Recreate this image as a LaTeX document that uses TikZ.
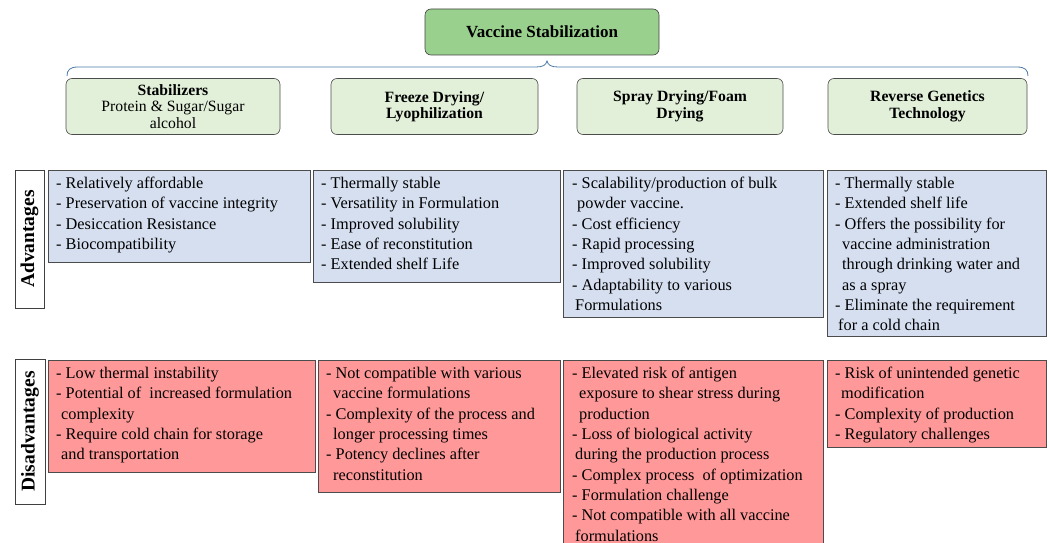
\documentclass[tikz,border=0pt]{standalone}
\usepackage{fontspec}
\setmainfont{Liberation Serif}[BoldFont={Liberation Serif Bold},ItalicFont={Liberation Serif Italic}]
\begin{document}
\begin{tikzpicture}[x=1pt,y=-1pt,
  topbox/.style={draw=black!75, line width=0.6pt, fill=topgreen, rounded corners=6pt, inner sep=0pt},
  catbox/.style={draw=black!70, line width=0.6pt, fill=catgreen, rounded corners=6pt, inner sep=0pt},
  advbox/.style={draw=black!70, line width=0.6pt, fill=advblue, inner sep=0pt},
  disbox/.style={draw=black!70, line width=0.6pt, fill=disred, inner sep=0pt},
  labbox/.style={draw=black!75, line width=0.7pt, fill=white, inner sep=0pt, rotate=90,
    font=\fontsize{19.5}{22}\selectfont\bfseries},
  bodytext/.style={anchor=north west, align=left, inner sep=0pt,
    font=\fontsize{16.3}{20.3}\selectfont},
  cattext/.style={align=center, inner sep=0pt, font=\fontsize{15.7}{16.5}\selectfont},
]
\definecolor{topgreen}{HTML}{9AD08E}
\definecolor{catgreen}{HTML}{E2F0D9}
\definecolor{advblue}{HTML}{D5DFF0}
\definecolor{disred}{HTML}{FF9898}
\definecolor{bracecol}{HTML}{4A7AA8}
\useasboundingbox (0,0) rectangle (1049,543);
\clip (0,0) rectangle (1049,543);

% top
\node[topbox, minimum width=234pt, minimum height=46pt] (top) at (542,32)
  {\fontsize{17}{18}\selectfont\bfseries Vaccine Stabilization};

% brace
\coordinate (brL) at (67,76);
\coordinate (brR) at (1028,76);
\coordinate (brT) at (547,61);
\draw[bracecol, line width=0.8pt]
  (brL) .. controls (67,70) and (70,67) .. (78,67) -- (536,67)
  .. controls (543,67) and (546,65) .. (brT)
  .. controls (548,65) and (551,67) .. (558,67) -- (1017,67)
  .. controls (1025,67) and (1028,70) .. (brR);

% category boxes
\node[catbox, minimum width=214pt, minimum height=56pt] (c1) at (173,106.5) {};
\node[catbox, minimum width=207pt, minimum height=56pt] (c2) at (434.5,106.5) {};
\node[catbox, minimum width=206pt, minimum height=56pt] (c3) at (680,106.5) {};
\node[catbox, minimum width=199pt, minimum height=56pt] (c4) at (927.5,106.5) {};
\node[cattext] (c1t) at (c1.center) {\textbf{Stabilizers}\\Protein \& Sugar/Sugar\\alcohol};
\node[cattext] (c2t) at (c2.center) {\textbf{Freeze Drying/}\\\textbf{Lyophilization}};
\node[cattext] (c3t) at (c3.center) {\textbf{Spray Drying/Foam}\\\textbf{Drying}};
\node[cattext] (c4t) at (c4.center) {\textbf{Reverse Genetics}\\\textbf{Technology}};

% side labels
\node[labbox, minimum width=138pt, minimum height=29pt] (advlab) at (29.5,239) {Advantages};
\node[labbox, minimum width=145pt, minimum height=30pt] (dislab) at (30,431.5) {Disadvantages};

% advantages boxes
\node[advbox, anchor=north west, minimum width=262pt, minimum height=92pt] (a1) at (48,170) {};
\node[advbox, anchor=north west, minimum width=247pt, minimum height=112pt] (a2) at (313,170) {};
\node[advbox, anchor=north west, minimum width=260pt, minimum height=147pt] (a3) at (563,170) {};
\node[advbox, anchor=north west, minimum width=219pt, minimum height=166pt] (a4) at (827,170) {};

\node[bodytext] (a1t) at ([shift={(8,7)}]a1.north west)
  {- Relatively affordable\\- Preservation of vaccine integrity\\- Desiccation Resistance\\- Biocompatibility};
\node[bodytext] (a2t) at ([shift={(8,7)}]a2.north west)
  {- Thermally stable\\- Versatility in Formulation\\- Improved solubility\\- Ease of reconstitution\\- Extended shelf Life};
\node[bodytext] (a3t) at ([shift={(9,7)}]a3.north west)
  {- Scalability/production of bulk\\\hspace*{5pt}powder vaccine.\\- Cost efficiency\\- Rapid processing\\- Improved solubility\\- Adaptability to various\\\hspace*{3pt}Formulations};
\node[bodytext] (a4t) at ([shift={(8,7)}]a4.north west)
  {- Thermally stable\\- Extended shelf life\\- Offers the possibility for\\\hspace*{7pt}vaccine administration\\\hspace*{7pt}through drinking water and\\\hspace*{7pt}as a spray\\- Eliminate the requirement\\\hspace*{3pt}for a cold chain};

% disadvantages boxes
\node[disbox, anchor=north west, minimum width=267pt, minimum height=112pt] (d1) at (48,360) {};
\node[disbox, anchor=north west, minimum width=242pt, minimum height=132pt] (d2) at (318,360) {};
\node[disbox, anchor=north west, minimum width=260pt, minimum height=190pt] (d3) at (563,360) {};
\node[disbox, anchor=north west, minimum width=219pt, minimum height=87pt] (d4) at (827,360) {};

\node[bodytext] (d1t) at ([shift={(8,7)}]d1.north west)
  {- Low thermal instability\\- Potential of~ increased formulation\\\hspace*{5pt}complexity\\- Require cold chain for storage\\\hspace*{5pt}and transportation};
\node[bodytext] (d2t) at ([shift={(8,7)}]d2.north west)
  {- Not compatible with various\\\hspace*{7pt}vaccine formulations\\- Complexity of the process and\\\hspace*{7pt}longer processing times\\- Potency declines after\\\hspace*{7pt}reconstitution};
\node[bodytext] (d3t) at ([shift={(9,7)}]d3.north west)
  {- Elevated risk of antigen\\\hspace*{7pt}exposure to shear stress during\\\hspace*{7pt}production\\- Loss of biological activity\\\hspace*{3pt}during the production process\\- Complex process~ of optimization\\- Formulation challenge\\- Not compatible with all vaccine\\\hspace*{3pt}formulations};
\node[bodytext] (d4t) at ([shift={(8,7)}]d4.north west)
  {- Risk of unintended genetic\\\hspace*{6pt}modification\\- Complexity of production\\- Regulatory challenges};
\end{tikzpicture}
\end{document}
